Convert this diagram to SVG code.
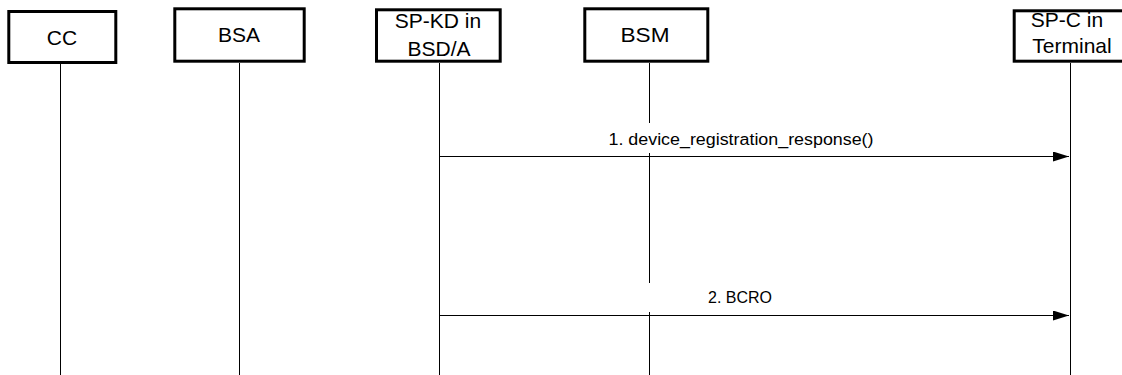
<svg xmlns="http://www.w3.org/2000/svg" width="1122" height="375" viewBox="0 0 1122 375">
<style>
.box{fill:#fff;stroke:#000;stroke-width:3}
.hd{font-family:"Liberation Sans",Arial,sans-serif;font-size:21px;fill:#000;text-anchor:middle}
.lbl{font-family:"Liberation Sans",Arial,sans-serif;font-size:16px;fill:#000;text-anchor:middle}
.life{stroke:#000;stroke-width:1;fill:none}
.msg{stroke:#000;stroke-width:1;fill:none;marker-end:url(#ah)}
</style>
<defs>
<marker id="ah" markerUnits="userSpaceOnUse" markerWidth="17" markerHeight="11" refX="16" refY="5" orient="auto">
<path d="M0,0 L16,5 L0,10 z" fill="#000"/>
</marker>
</defs>
<g id="connectors">
<line class="life" x1="60.5" y1="64" x2="60.5" y2="375"/>
<line class="life" x1="239.5" y1="63" x2="239.5" y2="375"/>
<line class="life" x1="439.5" y1="63" x2="439.5" y2="375"/>
<line class="life" x1="649.5" y1="63" x2="649.5" y2="123"/>
<line class="life" x1="649.5" y1="153" x2="649.5" y2="283"/>
<line class="life" x1="649.5" y1="312" x2="649.5" y2="375"/>
<line class="life" x1="1070.5" y1="63" x2="1070.5" y2="375"/>
<line class="msg" x1="439.5" y1="156.5" x2="1069" y2="156.5"/>
<text class="lbl" x="741" y="145" textLength="265" lengthAdjust="spacingAndGlyphs">1. device_registration_response()</text>
<line class="msg" x1="439.5" y1="315.5" x2="1069" y2="315.5"/>
<text class="lbl" x="740" y="302.5">2. BCRO</text>
</g>
<g id="node-cc">
<rect class="box" x="8.8" y="11.5" width="107" height="51"/>
<text class="hd" x="62" y="45">CC</text>
</g>
<g id="node-bsa">
<rect class="box" x="174.8" y="8.8" width="129.4" height="52.4"/>
<text class="hd" x="239" y="42">BSA</text>
</g>
<g id="node-spkd">
<rect class="box" x="376.5" y="9.8" width="123.7" height="51.4"/>
<text class="hd" x="438" y="28">SP-KD in</text>
<text class="hd" x="439" y="56">BSD/A</text>
</g>
<g id="node-bsm">
<rect class="box" x="584.8" y="8.8" width="123" height="52.4"/>
<text class="hd" x="645" y="42" textLength="49" lengthAdjust="spacingAndGlyphs">BSM</text>
</g>
<g id="node-spc">
<rect class="box" x="1014.2" y="10.8" width="130" height="50.4"/>
<text class="hd" x="1067" y="27">SP-C in</text>
<text class="hd" x="1072" y="53">Terminal</text>
</g>
</svg>
